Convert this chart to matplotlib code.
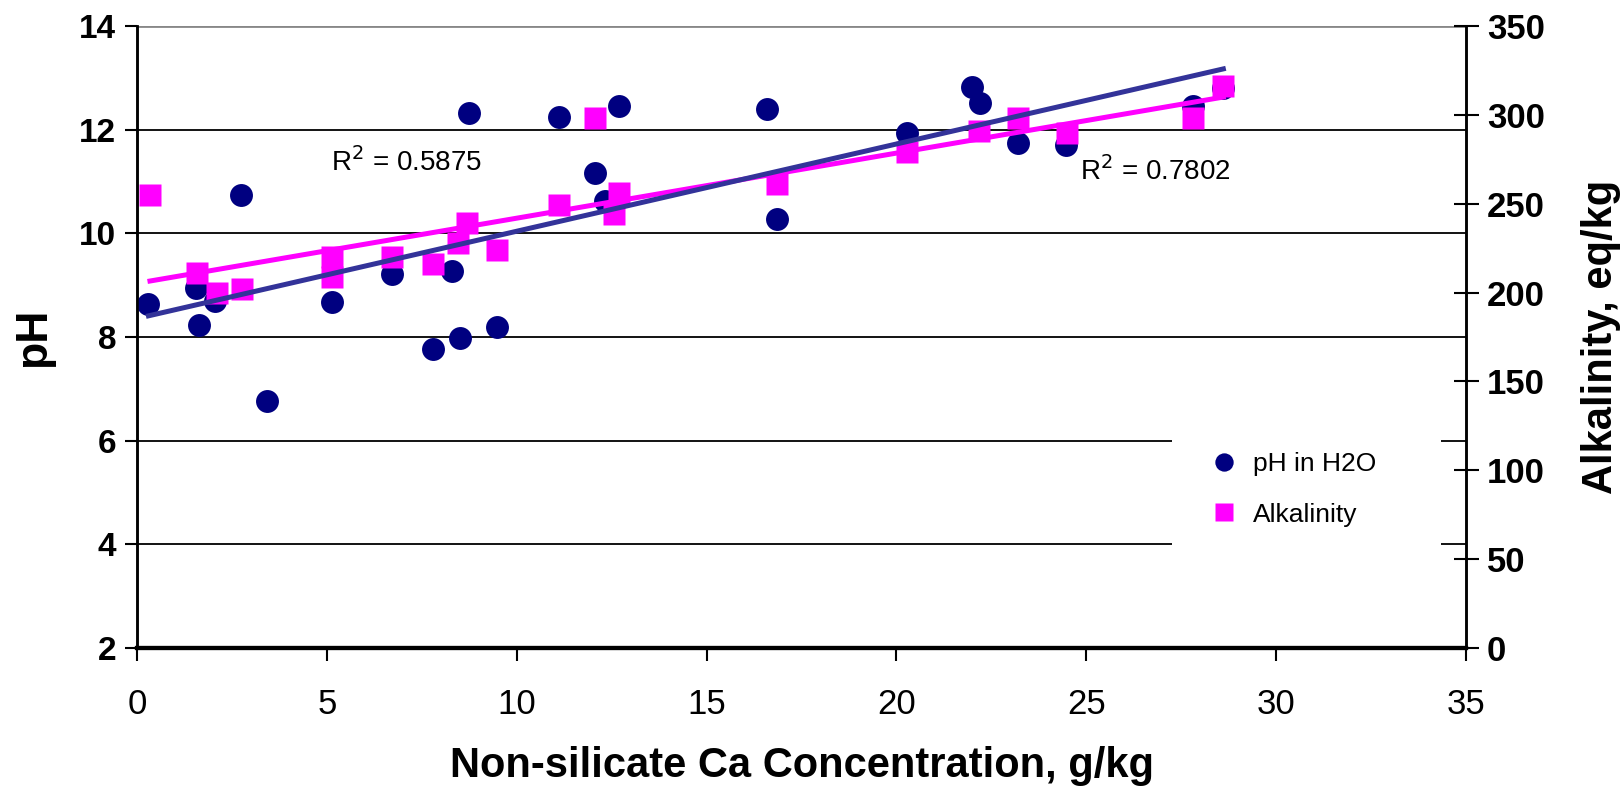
import numpy as np
import matplotlib
matplotlib.use("Agg")
import matplotlib.pyplot as plt
from matplotlib.patches import Rectangle

# pH in H2O (left axis)
ph_x = [0.30, 1.55, 1.63, 2.05, 2.75, 3.42, 5.13, 6.71, 7.79, 8.30, 8.51, 8.73, 9.47,
        11.12, 12.06, 12.32, 12.70, 16.60, 16.86, 20.29, 21.98, 22.20, 23.21, 24.47,
        27.82, 28.61]
ph_y = [8.63, 8.95, 8.23, 8.70, 10.73, 6.76, 8.67, 9.22, 7.77, 9.28, 7.99, 12.32, 8.19,
        12.24, 11.17, 10.62, 12.45, 12.40, 10.28, 11.94, 12.82, 12.51, 11.74, 11.71,
        12.45, 12.80]

# alkalinity (right axis)
alk_x = [0.34, 1.57, 2.10, 2.76, 5.13, 5.13, 6.71, 7.80, 8.46, 8.68, 9.47, 11.12,
         12.06, 12.55, 12.70, 16.86, 20.29, 22.18, 23.21, 24.48, 27.82, 28.61]
alk_y = [255, 211, 200, 202, 220, 209, 220, 216, 228, 239, 224, 249,
         298, 244, 256, 261, 279, 291, 298, 290, 298, 316]

r2_labels = ["R$^2$ = 0.5875", "R$^2$ = 0.7802"]

NAVY = "#000080"
PINK = "#FF00FF"
TREND_BLUE = "#333399"

plt.rcParams["font.family"] = ["Liberation Sans", "DejaVu Sans"]

fig = plt.figure(figsize=(16.22, 7.87), dpi=100, facecolor="white")
ax = fig.add_axes([0.0845, 0.1766, 0.8193, 0.7904])
ax2 = ax.twinx()

ax.set_xlim(0, 35)
ax.set_ylim(2, 14)
ax2.set_ylim(0, 350)

# gridlines, with a gap where the legend sits
for g in [4, 6, 8, 10, 12]:
    ax.axhline(g, color="black", lw=1.3, zorder=1)
ax.axhline(14, color="#888888", lw=2, zorder=1)
ax.add_patch(Rectangle((0.779, 0.14), 0.202, 0.225, transform=ax.transAxes,
                       facecolor="white", edgecolor="none", zorder=1.5))

# markers (pH drawn on ax2 with ax's transform so the trendlines can sit on top)
ax2.plot(ph_x, ph_y, "o", color=NAVY, ms=16.5, mec="none", transform=ax.transData,
         zorder=2, label="pH in H2O")
ax2.plot(alk_x, alk_y, "s", color=PINK, ms=16, mec="none", zorder=3, label="Alkalinity")

# linear trendlines
ka, ba = np.polyfit(alk_x, alk_y, 1)
xa = np.array([min(alk_x), max(alk_x)])
ax2.plot(xa, ka * xa + ba, color=PINK, lw=3.6, zorder=4)
kp, bp = np.polyfit(ph_x, ph_y, 1)
xp = np.array([min(ph_x), max(ph_x)])
ax2.plot(xp, kp * xp + bp, color=TREND_BLUE, lw=3.6, zorder=5, transform=ax.transData)

ax.text(5.12, 11.37, r2_labels[0], fontsize=20, va="center", ha="left", zorder=6)
ax.text(24.83, 11.2, r2_labels[1], fontsize=20, va="center", ha="left", zorder=6)

leg = ax2.legend(loc="center left", bbox_to_anchor=(0.79, 0.255), frameon=False,
                 fontsize=19, markerscale=0.8, handletextpad=0.6, labelspacing=1.0,
                 handlelength=1.0)

# spines and ticks
for a in (ax, ax2):
    a.spines["top"].set_visible(False)
    a.spines["left"].set_linewidth(1.8)
    a.spines["right"].set_linewidth(1.8)
    a.spines["bottom"].set_linewidth(3)
ax.set_xticks(np.arange(0, 36, 5))
ax.set_yticks(np.arange(2, 15, 2))
ax2.set_yticks(np.arange(0, 351, 50))
ax.tick_params(axis="x", direction="out", length=9, width=1.5, pad=20, labelsize=25)
ax.tick_params(axis="y", direction="out", length=9, width=1.5, pad=6, labelsize=24)
ax2.tick_params(axis="y", direction="inout", length=18, width=1.5, pad=6, labelsize=25)
for lab in ax.get_yticklabels() + ax2.get_yticklabels():
    lab.set_fontweight("bold")

ax.set_xlabel("Non-silicate Ca Concentration, g/kg", fontsize=30, fontweight="bold",
              labelpad=18)
ax.set_ylabel("pH", fontsize=32, fontweight="bold", labelpad=18)
ax2.set_ylabel("Alkalinity, eq/kg", fontsize=30, fontweight="bold", labelpad=26)

fig.savefig("out.png", dpi=100, facecolor="white")
